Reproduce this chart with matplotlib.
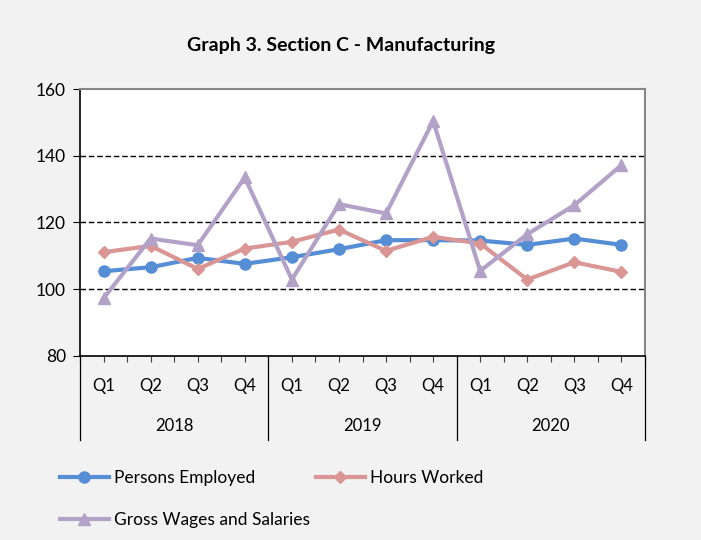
import matplotlib.pyplot as plt
import numpy as np

plt.rcParams['font.family'] = ['Lato', 'DejaVu Sans']

quarters = ['Q1', 'Q2', 'Q3', 'Q4'] * 3
years = ['2018', '2019', '2020']
persons = [105.4, 106.6, 109.4, 107.6, 109.6, 112.0, 114.7, 114.7, 114.6, 113.3, 115.2, 113.3]
hours = [111.1, 113.0, 106.1, 112.2, 114.2, 117.9, 111.5, 115.7, 113.7, 102.9, 108.1, 105.2]
wages = [97.3, 115.2, 113.2, 133.5, 102.9, 125.5, 122.7, 150.4, 105.5, 116.5, 125.2, 137.2]

bg = '#f2f2f2'
fig = plt.figure(figsize=(7.01, 5.40), dpi=100, facecolor=bg)
# plot area in pixels: x 80..645, y 89..356
ax = fig.add_axes([80/701, 1-356/540, 565/701, 267/540])
ax.set_facecolor('white')

x = np.arange(12)
l1, = ax.plot(x, persons, color='#558ed5', lw=3, marker='o', ms=8, label='Persons Employed', zorder=3)
l2, = ax.plot(x, hours, color='#d99694', lw=3, marker='D', ms=6, label='Hours Worked', zorder=3)
l3, = ax.plot(x, wages, color='#b3a2c7', lw=3, marker='^', ms=9, label='Gross Wages and Salaries', zorder=3)

ax.set_xlim(-0.5, 11.5)
ax.set_ylim(80, 160)
ax.set_yticks([80, 100, 120, 140, 160])
for v in [100, 120, 140]:
    ax.axhline(v, color='black', lw=1, ls=(0, (4, 2)), zorder=1)

ax.set_xticks(x)
ax.set_xticklabels(quarters, fontsize=12)
ax.set_xticks(np.arange(-0.5, 12, 1), minor=True)
ax.tick_params(axis='x', which='major', length=4, width=0.8, color='#404040', pad=12)
ax.tick_params(axis='x', which='minor', length=4, width=0.8, color='#404040')
ax.tick_params(axis='y', length=5, width=0.8, labelsize=12.5, pad=5)

for side in ['top', 'right']:
    ax.spines[side].set_color('#868686')
    ax.spines[side].set_linewidth(1.5)
for side in ['left', 'bottom']:
    ax.spines[side].set_color('black')
    ax.spines[side].set_linewidth(1.2)

trans = ax.get_xaxis_transform()
for b in [-0.5, 3.5, 7.5, 11.5]:
    ax.plot([b, b], [0, -84/267], transform=trans, color='black', lw=0.9, clip_on=False)
for i, yr in enumerate(years):
    ax.text(1.5 + 4*i, -70/267, yr, transform=trans, ha='center', va='center', fontsize=12)

fig.text(341/701, 1-45/540, 'Graph 3. Section C - Manufacturing', ha='center', va='center',
         fontsize=14, fontweight='bold')

# legend entries placed one by one, like the spreadsheet layout
leg_kw = dict(loc='center left', frameon=False, fontsize=12.5, handlelength=2.8,
              handletextpad=0.3, borderaxespad=0, borderpad=0)
for h, (px, py) in [(l1, (60, 478)), (l2, (316, 478)), (l3, (60, 520))]:
    fig.legend([h], [h.get_label()], bbox_to_anchor=(px/701, 1-py/540), **leg_kw)

plt.savefig('out.png', dpi=100, facecolor=bg)
